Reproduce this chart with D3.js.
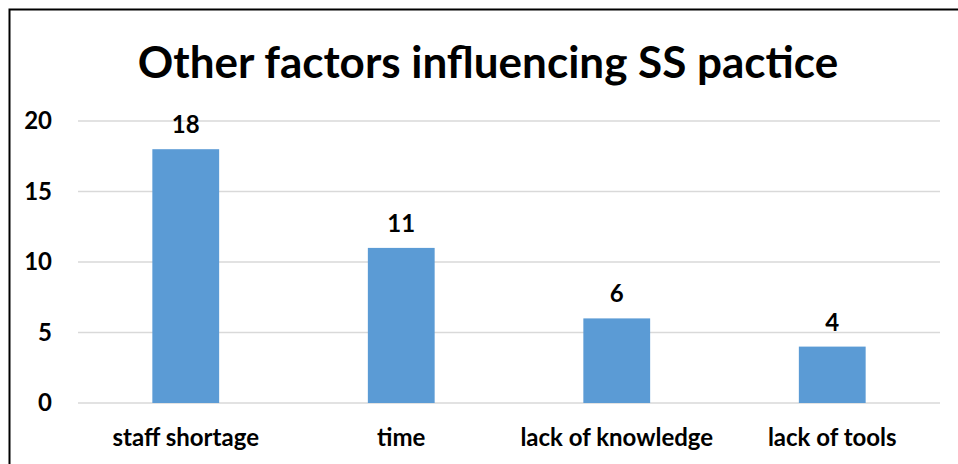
<!DOCTYPE html>
<html lang="en">
<head>
    <meta charset="UTF-8">
    <title>Other factors influencing SS pactice</title>
    <script src="https://d3js.org/d3.v7.min.js"></script>
    <style>
        body { margin: 0; background: #fff; }
        svg { display: block; font-family: Lato, "Open Sans", sans-serif; }
    </style>
</head>
<body>
    <svg id="chart"></svg>
    <script>
        // Chart data
        var categories = ['staff shortage', 'time', 'lack of knowledge', 'lack of tools'];
        var counts = [18, 11, 6, 4];
        var yTicks = [0, 5, 10, 15, 20];
        var titleText = 'Other factors influencing SS pactice';

        var width = 958, height = 464;
        var margin = { top: 121, right: 18, bottom: 61, left: 78 };
        var innerW = width - margin.left - margin.right;
        var innerH = height - margin.top - margin.bottom;
        var labelSize = '24px';

        var svg = d3.select('#chart')
            .attr('width', width)
            .attr('height', height);

        // outer frame
        svg.append('rect')
            .attr('x', 9.5).attr('y', 9.5)
            .attr('width', 1000).attr('height', 1000)
            .attr('fill', 'none')
            .attr('stroke', '#000')
            .attr('stroke-width', 2);

        svg.append('text')
            .attr('x', 488)
            .attr('y', 78)
            .attr('text-anchor', 'middle')
            .style('font-size', '44px')
            .style('font-weight', 'bold')
            .text(titleText);

        var g = svg.append('g')
            .attr('transform', 'translate(' + margin.left + ',' + margin.top + ')');

        var x = d3.scaleBand()
            .domain(categories)
            .range([0, innerW])
            .paddingInner(0.69)
            .paddingOuter(0.345);

        var y = d3.scaleLinear()
            .domain([0, 20])
            .range([innerH, 0]);

        // gridlines
        g.selectAll('.grid')
            .data(yTicks)
            .enter()
            .append('line')
            .attr('x1', 0).attr('x2', innerW)
            .attr('y1', d => y(d)).attr('y2', d => y(d))
            .attr('stroke', '#d9d9d9')
            .attr('stroke-width', 1.5);

        // y axis labels
        var yAxis = g.append('g')
            .call(d3.axisLeft(y).tickValues(yTicks).tickSize(0).tickPadding(26));
        yAxis.select('.domain').remove();
        yAxis.selectAll('text')
            .style('font-family', 'Lato, sans-serif')
            .style('font-size', labelSize)
            .style('font-weight', 'bold')
            .attr('fill', '#000');

        g.selectAll('.bar')
            .data(counts)
            .enter()
            .append('rect')
            .attr('class', 'bar')
            .attr('x', (d, i) => x(categories[i]))
            .attr('y', d => y(d))
            .attr('width', x.bandwidth())
            .attr('height', d => innerH - y(d))
            .attr('fill', '#5b9bd5');

        g.selectAll('.value')
            .data(counts)
            .enter()
            .append('text')
            .attr('x', (d, i) => x(categories[i]) + x.bandwidth() / 2)
            .attr('y', d => y(d) - 16)
            .attr('text-anchor', 'middle')
            .style('font-size', labelSize)
            .style('font-weight', 'bold')
            .text(d => d);

        // x axis labels
        var xAxis = g.append('g')
            .attr('transform', 'translate(0,' + innerH + ')')
            .call(d3.axisBottom(x).tickSize(0).tickPadding(26));
        xAxis.select('.domain').remove();
        xAxis.selectAll('text')
            .style('font-family', 'Lato, sans-serif')
            .style('font-size', labelSize)
            .style('font-weight', 'bold')
            .attr('fill', '#000');
    </script>
</body>
</html>
